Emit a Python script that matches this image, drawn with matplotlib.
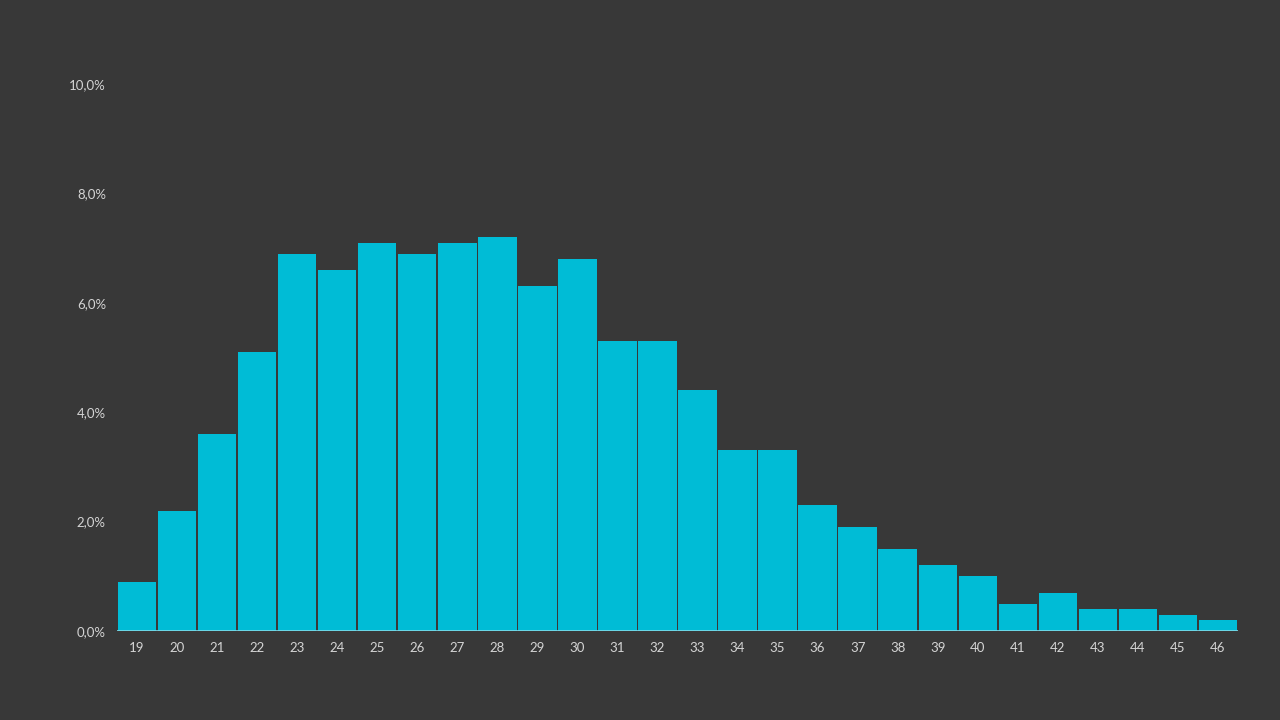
import matplotlib.pyplot as plt
import numpy as np

ages = list(range(19, 47))
share = [0.9, 2.2, 3.6, 5.1, 6.9, 6.6, 7.1, 6.9, 7.1, 7.2, 6.3, 6.8, 5.3, 5.3,
         4.4, 3.3, 3.3, 2.3, 1.9, 1.5, 1.2, 1.0, 0.5, 0.7, 0.4, 0.4, 0.3, 0.2]
y_ticks = [0, 2, 4, 6, 8, 10]

bg = "#383838"
bar_color = "#00bcd6"
text_color = "#d4d4d4"

plt.rcParams['font.family'] = ['Lato', 'DejaVu Sans']

fig = plt.figure(figsize=(12.8, 7.2), dpi=100, facecolor=bg)
ax = fig.add_axes([117 / 1280, 1 - 631 / 720, (1238 - 117) / 1280, (631 - 84) / 720])
ax.set_facecolor(bg)

x = np.arange(len(ages))
ax.bar(x, share, width=0.96, color=bar_color, linewidth=0)
ax.axhline(0, color="#7fdcea", linewidth=1.2)

ax.set_xlim(-0.5, len(ages) - 0.5)
ax.set_ylim(0, 10)
ax.set_xticks(x)
ax.set_xticklabels([str(a) for a in ages])
ax.set_yticks(y_ticks)
ax.set_yticklabels([f"{v:.1f}%".replace(".", ",") for v in y_ticks])

ax.tick_params(axis="both", length=0, colors=text_color, labelsize=9.5)
ax.tick_params(axis="y", pad=8)
ax.tick_params(axis="x", pad=8)
for s in ax.spines.values():
    s.set_visible(False)

fig.savefig("out.png", dpi=100, facecolor=bg)
